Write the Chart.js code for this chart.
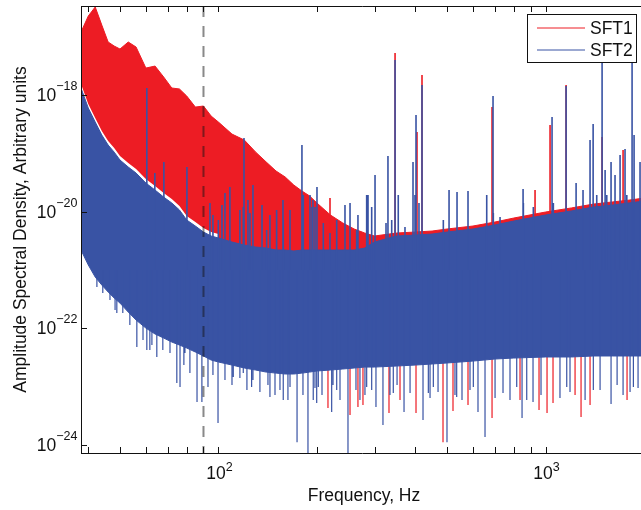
<!DOCTYPE html>
<html><head><meta charset="utf-8">
<script src="https://cdn.jsdelivr.net/npm/chart.js@4.4.1/dist/chart.umd.min.js"></script>
<style>
html,body{margin:0;padding:0;overflow:hidden;background:#fff;width:641px;height:510px}
#wrap{position:relative;width:660px;height:510px}
canvas{display:block}
</style></head>
<body><div id="wrap"><canvas id="c" width="660" height="510"></canvas></div>
<script>
// ---- envelope of the dense noise floor (Hz, amplitude) ----
const freqHz = [38,40,42,44,46,48,50,53,56,60,64,68,72,76,80,85,90,95,100,110,120,130,140,150,160,170,180,190,200,220,240,260,280,300,350,400,450,500,600,700,800,1000,1200,1400,1600,1800,2000];
const sft1Upper = [1.2e-17,2.26e-17,3.23e-17,1.58e-17,8.11e-18,6.92e-18,6.15e-18,8.11e-18,6.65e-18,2.90e-18,3.14e-18,2.04e-18,1.32e-18,1.27e-18,9.62e-19,6.22e-19,6.48e-19,4.36e-19,3.44e-19,2.14e-19,1.69e-19,1.05e-19,7.10e-20,4.98e-20,3.93e-20,2.86e-20,2.26e-20,1.86e-20,1.41e-20,8.77e-21,6.40e-21,5.05e-21,4.31e-21,3.83e-21,4.31e-21,4.48e-21,4.66e-21,5.05e-21,5.68e-21,6.65e-21,7.79e-21,9.87e-21,1.16e-20,1.35e-20,1.47e-20,1.58e-20,1.71e-20];
const sft1Lower = [1.55e-18,7.01e-19,4.04e-19,2.41e-19,1.63e-19,1.23e-19,9.00e-20,6.83e-20,5.38e-20,3.63e-20,2.75e-20,2.09e-20,1.65e-20,1.25e-20,8.43e-21,6.65e-21,5.25e-21,4.48e-21,4.14e-21,3.49e-23,3.10e-23,2.86e-23,2.65e-23,2.55e-23,2.45e-23,2.45e-23,2.55e-23,2.65e-23,2.75e-23,2.86e-23,2.98e-23,3.10e-23,3.23e-23,3.23e-23,3.36e-23,3.49e-23,3.63e-23,3.78e-23,4.08e-23,4.42e-23,4.60e-23,4.79e-23,4.79e-23,4.98e-23,4.98e-23,4.98e-23,4.98e-23];
const sft2Upper = [1.32e-18,5.98e-19,3.44e-19,2.06e-19,1.39e-19,1.05e-19,7.69e-20,5.83e-20,4.60e-20,3.10e-20,2.35e-20,1.78e-20,1.41e-20,1.07e-20,7.20e-21,5.68e-21,4.48e-21,3.83e-21,3.54e-21,3.02e-21,2.68e-21,2.48e-21,2.38e-21,2.20e-21,2.20e-21,2.12e-21,2.20e-21,2.20e-21,2.20e-21,2.20e-21,2.20e-21,2.20e-21,2.38e-21,3.02e-21,3.83e-21,3.98e-21,4.14e-21,4.48e-21,5.05e-21,5.91e-21,6.92e-21,8.77e-21,1.03e-20,1.20e-20,1.30e-20,1.41e-20,1.52e-20];
const sft2Lower = [2.20e-21,1.22e-21,7.58e-22,5.53e-22,4.20e-22,3.31e-22,2.71e-22,1.90e-22,1.39e-22,1.01e-22,8.00e-23,6.83e-23,5.83e-23,5.18e-23,4.60e-23,3.93e-23,3.36e-23,2.86e-23,2.65e-23,2.35e-23,2.09e-23,1.93e-23,1.78e-23,1.71e-23,1.65e-23,1.65e-23,1.71e-23,1.78e-23,1.86e-23,1.93e-23,2.01e-23,2.09e-23,2.17e-23,2.17e-23,2.26e-23,2.35e-23,2.45e-23,2.55e-23,2.75e-23,2.98e-23,3.10e-23,3.23e-23,3.23e-23,3.36e-23,3.36e-23,3.36e-23,3.36e-23];

// ---- spectral lines (peaks) and deep bins (dips) ----
const sft1PeakHz  = [219.3,346.7,404.6,419.1,686.2,928.8,1032.3,1155.6,1489,1726];
const sft1PeakAmp = [1.71e-20,5.25e-18,2.32e-19,2.20e-18,6.22e-19,2.35e-20,3.06e-19,1.48e-18,1.91e-19,1.14e-19];
const sft1DipHz   = [216.2,252.5,267.0,276.6,332.2,359.0,401.8,485.9,521.3,579.4,686.2,835.6,955.2,1010.6,1054.1,1231,1284,1368,1775];
const sft1DipAmp  = [4.31e-24,3.27e-24,4.48e-24,4.85e-24,3.54e-24,5.91e-24,3.54e-24,1.12e-24,3.83e-24,4.85e-24,2.90e-24,5.91e-24,3.98e-24,3.54e-24,5.25e-24,7.20e-24,3.02e-24,4.85e-24,5.91e-24];
const sft2PeakHz  = [60.4,63.9,68.1,80.1,94.2,96.2,99.9,102.5,104.7,108.4,116.3,119.1,119.7,123.1,124.8,127.5,135.9,140.4,143.7,150.6,157.5,157.8,165.5,180.0,181.7,190.5,193.2,194.5,197.3,200.1,209.2,219.3,229.9,243.7,252.5,264.6,267.0,283.9,286.6,294.1,301.1,325.3,329.8,338.6,346.7,354.6,371.8,393.4,398.9,401.8,410.3,419.1,487.0,507.0,536.3,579.4,661.0,691.0,692.4,726.0,853.7,855.5,917.6,1046.9,1056.6,1155.6,1240,1302,1368,1398,1434,1489,1521,1539,1586,1631,1690,1750,1772,1839,1865,1945];
const sft2PeakAmp = [1.32e-18,4.60e-20,7.10e-20,5.83e-20,1.41e-20,8.77e-21,7.20e-21,1.30e-20,2.09e-20,2.65e-20,1.07e-20,1.20e-20,1.83e-19,1.58e-20,9.48e-21,2.86e-20,1.30e-20,4.85e-21,8.77e-21,1.07e-20,1.58e-20,7.20e-21,1.07e-20,1.39e-19,1.93e-20,1.93e-20,1.20e-20,1.58e-20,1.20e-20,2.65e-20,6.40e-21,4.31e-21,7.20e-21,1.30e-20,1.41e-20,4.85e-21,8.77e-21,1.93e-20,1.93e-20,1.20e-20,4.25e-20,6.40e-21,9.00e-20,7.20e-21,3.98e-18,1.93e-20,5.46e-21,7.10e-20,1.93e-20,4.54e-19,1.41e-20,1.48e-18,7.20e-21,2.35e-20,2.17e-20,2.26e-20,1.93e-20,9.62e-19,9.48e-21,8.09e-21,2.45e-20,1.41e-20,1.20e-20,4.20e-19,1.41e-20,1.43e-18,3.10e-20,2.35e-20,1.69e-19,3.18e-19,1.93e-20,1.07e-17,5.18e-20,1.93e-20,7.10e-20,4.25e-20,9.36e-20,1.19e-19,1.93e-20,1.07e-17,2.06e-19,7.10e-20];
const sft2DipHz   = [42.5,44.3,46.6,48.3,48.9,51.0,53.6,56.3,58.8,60.4,61.7,62.6,64.8,67.6,71.1,74.6,76.3,78.4,79.0,81.8,86.0,89.0,92.9,96.2,99.7,104.7,110.0,111.0,116.3,119.1,122.2,126.3,127.5,133.9,141.7,143.7,148.9,154.2,157.8,163.1,165.5,173.9,181.3,187.8,194.9,197.3,199.7,202.0,207.3,221.9,224.0,229.9,235.3,248.9,263.3,270.8,280.5,283.9,294.1,303.1,318.4,334.5,342.4,351.6,369.3,385.3,422.1,438.2,443.5,453.9,469.2,499.7,528.6,535.0,555.4,587.6,601.5,621.6,653.1,700.9,741.3,778.7,816.4,847.6,876.0,915.7,968.7,1107,1161,1188,1321,1400,1468,1586,1655,1726,1813,1856,1918];
const sft2DipAmp  = [5.11e-22,4.03e-22,3.06e-22,2.06e-22,1.83e-22,1.83e-22,1.14e-22,4.79e-23,6.31e-23,4.25e-23,4.25e-23,5.18e-23,3.23e-23,4.25e-23,3.78e-23,1.16e-23,9.87e-24,2.35e-23,3.78e-23,1.71e-23,5.46e-24,5.46e-24,9.87e-24,1.58e-23,2.38e-24,1.30e-23,1.07e-23,1.47e-23,1.41e-23,1.71e-23,8.77e-24,9.87e-24,1.30e-23,8.11e-24,1.07e-23,6.65e-24,7.20e-24,8.77e-24,5.91e-24,5.91e-24,9.87e-24,1.12e-24,7.20e-24,7e-25,5.91e-24,9.49e-24,5.25e-24,9.87e-24,7.20e-24,3.68e-24,1.07e-23,8.77e-24,5.91e-24,7e-25,8.77e-24,5.91e-24,7.20e-24,9.87e-24,8.77e-24,4.48e-24,2.20e-24,7.20e-24,7.79e-24,1.07e-23,3.68e-24,7.79e-24,2.68e-24,7.79e-24,6.40e-24,9.87e-24,8.11e-24,1.12e-24,7.20e-24,6.65e-24,5.91e-24,8.77e-24,9.87e-24,3.68e-24,1.37e-24,6.40e-24,7.79e-24,5.91e-24,9.87e-24,2.90e-24,5.91e-24,5.46e-24,7.20e-24,6.40e-24,9.87e-24,8.11e-24,5.91e-24,8.77e-24,8.77e-24,5.05e-24,1.07e-23,7.20e-24,8.11e-24,9.87e-24,9.49e-24];
const SPIKE_BASE = 1e-21;

// ---- marker line, axes ----
const markerHz = 90;
const xRange = [38, 2000];
const yRange = [7.3e-25, 3.36e-17];
const xTickValues = [40,50,60,70,80,90,100,200,300,400,500,600,700,800,900,1000,2000];
const xLabelValues = [100, 1000];
const xLabelExp = ['2','3'];
const yTickValues = [1e-24,1e-22,1e-20,1e-18];
const yLabelExp = ['\u221224','\u221222','\u221220','\u221218'];
const seriesNames = ['SFT1','SFT2'];
const RED = '#ED1C24', BLUE = '#3953A4';

function env(arr){ return freqHz.map((f,i)=>({x:f,y:arr[i]})); }
function spikes(hz, amp){ const out=[]; hz.forEach((f,i)=>{out.push({x:f,y:SPIKE_BASE},{x:f,y:amp[i]},{x:f,y:null});}); return out; }

const FONT = '"Liberation Sans", Arial, Helvetica, sans-serif';

const axesPlugin = {
  id:'matlabAxes',
  afterDatasetsDraw(chart){
    const {ctx, chartArea:a, scales:{x,y}} = chart;
    ctx.save();
    ctx.strokeStyle='#111'; ctx.lineWidth=1;
    ctx.beginPath();
    ctx.moveTo(a.left+0.5, a.top+0.5); ctx.lineTo(a.right, a.top+0.5);
    ctx.moveTo(a.left+0.5, a.top); ctx.lineTo(a.left+0.5, a.bottom+0.5);
    ctx.moveTo(a.left, a.bottom+0.5); ctx.lineTo(a.right, a.bottom+0.5);
    xTickValues.forEach(v=>{ const p=Math.round(x.getPixelForValue(v))+0.5;
      ctx.moveTo(p,a.bottom); ctx.lineTo(p,a.bottom-6);
      ctx.moveTo(p,a.top); ctx.lineTo(p,a.top+6); });
    yTickValues.forEach(v=>{ const p=Math.round(y.getPixelForValue(v))+0.5;
      ctx.moveTo(a.left,p); ctx.lineTo(a.left+6,p); });
    ctx.stroke();
    ctx.fillStyle='#111';
    xLabelValues.forEach((v,i)=>{
      const p=x.getPixelForValue(v);
      ctx.font='17.5px '+FONT; const wb=ctx.measureText('10').width;
      ctx.font='12.5px '+FONT; const we=ctx.measureText(xLabelExp[i]).width;
      const left=p-(wb+we)/2+1;
      ctx.textAlign='left'; ctx.textBaseline='alphabetic';
      ctx.font='17.5px '+FONT; ctx.fillText('10',left,479);
      ctx.font='12.5px '+FONT; ctx.fillText(xLabelExp[i],left+wb,471);
    });
    yTickValues.forEach((v,i)=>{
      const p=y.getPixelForValue(v);
      ctx.font='12.5px '+FONT; const we=ctx.measureText(yLabelExp[i]).width;
      const right=77.5;
      ctx.textAlign='left'; ctx.textBaseline='alphabetic';
      ctx.fillText(yLabelExp[i], right-we, p-5);
      ctx.font='17.5px '+FONT; const wb=ctx.measureText('10').width;
      ctx.fillText('10', right-we-wb, p+6);
    });
    ctx.font='17.5px '+FONT; ctx.textAlign='center'; ctx.textBaseline='alphabetic';
    ctx.fillText('Frequency, Hz', 364, 501);
    ctx.save(); ctx.translate(25.5,(a.top+a.bottom)/2); ctx.rotate(-Math.PI/2);
    ctx.fillText('Amplitude Spectral Density, Arbitrary units',0,0); ctx.restore();
    const lx=527.5, ly=14.5, lw=109, lh=48;
    ctx.fillStyle='#fff'; ctx.fillRect(lx,ly,lw,lh);
    ctx.strokeStyle='#111'; ctx.lineWidth=1; ctx.strokeRect(lx,ly,lw,lh);
    [RED,BLUE].forEach((c,i)=>{
      const yy = 28 + i*22;
      ctx.strokeStyle=c; ctx.lineWidth=1; ctx.beginPath(); ctx.moveTo(537,yy); ctx.lineTo(585,yy); ctx.stroke();
      ctx.fillStyle='#111'; ctx.font='17.5px '+FONT; ctx.textAlign='left'; ctx.textBaseline='middle';
      ctx.fillText(seriesNames[i], 590, yy+1);
    });
    ctx.restore();
  }
};

const common = {pointRadius:0, borderWidth:0, tension:0, spanGaps:false};
new Chart(document.getElementById('c'), {
  type:'line',
  data:{datasets:[
    {...common, label:'SFT1', data:env(sft1Upper), backgroundColor:RED, borderColor:RED, borderWidth:1, fill:'+1', order:50},
    {...common, label:'SFT1 lo', data:env(sft1Lower), borderColor:RED, fill:false, order:50},
    {...common, label:'SFT1 peaks', data:spikes(sft1PeakHz,sft1PeakAmp), borderColor:RED, borderWidth:1.6, fill:false, order:40},
    {...common, label:'SFT1 dips', data:spikes(sft1DipHz,sft1DipAmp), borderColor:RED, borderWidth:1.2, fill:false, order:40},
    {...common, label:'SFT2', data:env(sft2Upper), backgroundColor:BLUE, borderColor:BLUE, borderWidth:1, fill:'+1', order:30},
    {...common, label:'SFT2 lo', data:env(sft2Lower), borderColor:BLUE, borderWidth:1, fill:false, order:30},
    {...common, label:'SFT2 peaks', data:spikes(sft2PeakHz,sft2PeakAmp), borderColor:BLUE, borderWidth:1.6, fill:false, order:20},
    {...common, label:'SFT2 dips', data:spikes(sft2DipHz,sft2DipAmp), borderColor:BLUE, borderWidth:1.2, fill:false, order:20},
    {...common, label:'marker', data:[{x:markerHz,y:yRange[1]},{x:markerHz,y:yRange[0]}], borderColor:'rgba(20,20,20,0.5)', borderWidth:2, borderDash:[11,9], fill:false, order:10}
  ]},
  options:{
    responsive:false, animation:false, devicePixelRatio:1,
    layout:{padding:{left:81, top:6, right:16, bottom:57}},
    plugins:{legend:{display:false}, tooltip:{enabled:false}},
    scales:{
      x:{type:'logarithmic', min:xRange[0], max:xRange[1], display:false, bounds:'data'},
      y:{type:'logarithmic', min:yRange[0], max:yRange[1], display:false, bounds:'data'}
    }
  },
  plugins:[axesPlugin]
});
</script>
</body></html>
